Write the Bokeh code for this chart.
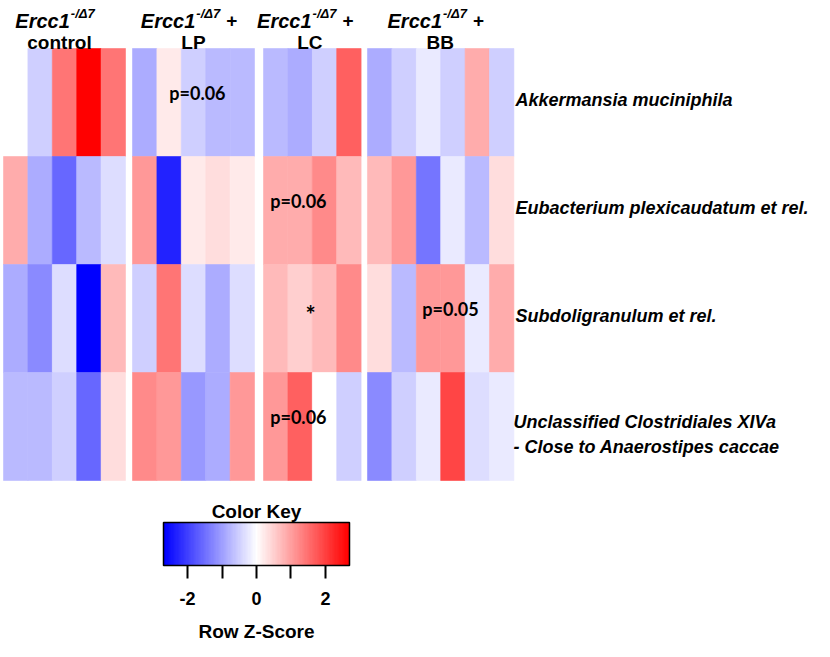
import numpy as np
from bokeh.plotting import figure
from bokeh.models import Range1d, LinearColorMapper, ColorBar, FixedTicker, ColumnDataSource
from bokeh.transform import transform
from bokeh.core.properties import value
from bokeh.embed import file_html
from bokeh.resources import INLINE

# ---------------- data ----------------
taxa = [
    "Akkermansia muciniphila",
    "Eubacterium plexicaudatum et rel.",
    "Subdoligranulum et rel.",
    "Unclassified Clostridiales XIVa\n- Close to Anaerostipes caccae",
]
groups = ["control", "LP", "LC", "BB"]
group_plus = [False, True, True, True]
genotype = "Ercc1"
genotype_sup = "-/\u03947"

# row z-scores per group (rows = taxa, columns = animals)
z_control = [
    [0.00, -0.54, 1.44, 2.70, 1.44],
    [0.90, -0.90, -1.62, -0.72, -0.36],
    [-0.90, -1.26, -0.36, -2.70, 0.72],
    [-0.72, -0.72, -0.54, -1.62, 0.36],
]
z_LP = [
    [-0.90, 0.18, -0.54, -0.72, -0.72],
    [1.08, -2.34, 0.18, 0.36, 0.18],
    [-0.54, 1.44, -0.36, -0.90, -0.36],
    [1.26, 1.08, -1.08, -0.90, 1.08],
]
z_LC = [
    [-0.72, -0.90, -0.54, 1.62],
    [0.90, 0.90, 1.26, 0.72],
    [0.72, 0.54, 0.72, 1.26],
    [1.08, 1.62, 0.00, -0.54],
]
z_BB = [
    [-0.90, -0.54, -0.18, -0.54, 0.90, -0.54],
    [0.72, 1.08, -1.44, -0.18, -0.72, 0.36],
    [0.36, -0.72, 1.08, 1.08, -0.18, 0.90],
    [-1.26, -0.54, -0.18, 1.98, -0.36, -0.18],
]

ann_group = ["LP", "LC", "LC", "BB", "LC"]
ann_row = [0, 1, 2, 2, 3]
ann_col = [2.66, 1.43, 1.93, 3.40, 1.43]
ann_text = ["p=0.06", "p=0.06", "*", "p=0.05", "p=0.06"]

key_title = "Color Key"
key_axis = "Row Z-Score"
key_ticks = [-2, -1, 0, 1, 2]
key_labels = {-2: "-2", -1: "", 0: "0", 1: "", 2: "2"}
z_low, z_high = -2.7, 2.7

# ---------------- layout ----------------
W, H = 814, 641
LEFT, COLW, ROWH, TOP = 3.0, 24.4, 108.0, 48.0
gaps = [0.287, 0.369, 0.262]


def xd(px):
    return (px - LEFT) / COLW


def yd(px):
    return (px - TOP) / ROWH


blocks = [z_control, z_LP, z_LC, z_BB]
offsets = []
o = 0.0
for i, b in enumerate(blocks):
    offsets.append(o)
    o += len(b[0]) + (gaps[i] if i < len(gaps) else 0.0)
heat_right = offsets[-1] + len(blocks[-1][0])

xs, ys, zs = [], [], []
for off, b in zip(offsets, blocks):
    for r, row in enumerate(b):
        for c, v in enumerate(row):
            xs.append(off + c + 0.5)
            ys.append(r + 0.5)
            zs.append(v)
src = ColumnDataSource(dict(x=xs, y=ys, z=zs))

# blue-white-red palette
n_half = 37
pal = []
for i in range(n_half):
    v = int(round(255 * i / n_half))
    pal.append("#%02x%02x%02x" % (v, v, 255))
pal.append("#ffffff")
for i in range(1, n_half + 1):
    v = int(round(255 * (1 - i / n_half)))
    pal.append("#%02x%02x%02x" % (255, v, v))
mapper = LinearColorMapper(palette=pal, low=z_low, high=z_high)

p = figure(width=W, height=H, x_range=Range1d(xd(0), xd(W)),
           y_range=Range1d(yd(H), yd(0)),
           output_backend="svg", toolbar_location=None, min_border=0,
           x_axis_location=None, y_axis_location=None)
p.grid.visible = False
p.outline_line_color = None
p.background_fill_color = "white"

p.rect(x="x", y="y", width=1, height=1, source=src,
       fill_color=transform("z", mapper), line_color=transform("z", mapper),
       line_width=0.6)

# ---------------- headers ----------------
FONT = value("Liberation Sans")
hdr_nudge_px = [-5.0, 0.0, -2.5, -0.5]
w_ercc, w_sup, w_gap, w_plus = 45.6, 24.0, 6.0, 11.0
e_x, s_x, pl_x, g_x = [], [], [], []
for gi, g in enumerate(groups):
    cx_px = LEFT + (offsets[gi] + len(blocks[gi][0]) / 2) * COLW + hdr_nudge_px[gi]
    total = w_ercc + 1 + w_sup + ((w_gap + w_plus) if group_plus[gi] else 0)
    start = cx_px - total / 2
    e_x.append(xd(start + w_ercc))
    s_x.append(xd(start + w_ercc + 1))
    if group_plus[gi]:
        pl_x.append(xd(start + w_ercc + 1 + w_sup + w_gap))
    g_x.append(xd(cx_px))

p.text(x=e_x, y=[yd(20)] * 4, text=[genotype] * 4, text_font=FONT,
       text_font_style="bold italic", text_font_size="20px",
       text_align="right", text_baseline="alphabetic", text_color="black")
p.text(x=s_x, y=[yd(13)] * 4, text=[genotype_sup] * 4, text_font=FONT,
       text_font_style="bold italic", text_font_size="13px",
       text_align="left", text_baseline="alphabetic", text_color="black")
p.text(x=pl_x, y=[yd(20)] * len(pl_x), text=["+"] * len(pl_x), text_font=FONT,
       text_font_style="bold", text_font_size="19px",
       text_align="left", text_baseline="alphabetic", text_color="black")
p.text(x=g_x, y=[yd(42)] * 4, text=groups, text_font=FONT,
       text_font_style="bold", text_font_size="19px",
       text_align="center", text_baseline="alphabetic", text_color="black")

# ---------------- row labels ----------------
lab_x, lab_y, lab_t = [], [], []
for r, t in enumerate(taxa):
    lines = t.split("\n")
    if len(lines) == 1:
        lab_x.append(xd(515))
        lab_y.append(r + 0.5 - 3 / ROWH)
        lab_t.append(t)
    else:
        for li, ln in enumerate(lines):
            lab_x.append(xd(513))
            lab_y.append(r + 0.5 + (-5 + 25 * li) / ROWH)
            lab_t.append(ln)
p.text(x=lab_x, y=lab_y, text=lab_t, text_font=FONT,
       text_font_style="bold italic", text_font_size="18px",
       text_align="left", text_baseline="middle", text_color="black")

# ---------------- annotations ----------------
ax = [offsets[groups.index(g)] + c for g, c in zip(ann_group, ann_col)]
ay = [r + 0.5 - (4 if t == "*" else 10) / ROWH for r, t in zip(ann_row, ann_text)]
asz = ["24px" if t == "*" else "18px" for t in ann_text]
p.text(x=ax, y=ay, text=ann_text, text_font=value("Lato"),
       text_font_style="bold", text_font_size=asz,
       text_align="center", text_baseline="middle", text_color="black")

# ---------------- color key ----------------
KEY_L, KEY_W, KEY_H = 163, 186, 43
cb = ColorBar(color_mapper=mapper, orientation="horizontal",
              width=KEY_W, height=KEY_H, location=(KEY_L, 34), padding=0,
              ticker=FixedTicker(ticks=key_ticks),
              major_label_overrides=key_labels,
              major_tick_in=0, major_tick_out=13,
              major_tick_line_color="black", major_tick_line_width=2,
              minor_tick_line_color=None,
              bar_line_color="black", bar_line_width=1.5,
              label_standoff=13,
              major_label_text_font="Liberation Sans",
              major_label_text_font_size="18px",
              major_label_text_font_style="bold",
              major_label_text_color="black",
              background_fill_alpha=0, border_line_color=None)
p.add_layout(cb)

key_cx = xd(KEY_L + KEY_W / 2)
p.text(x=[key_cx], y=[yd(511)], text=[key_title], text_font=FONT,
       text_font_style="bold", text_font_size="19px",
       text_align="center", text_baseline="middle", text_color="black")
p.text(x=[key_cx], y=[yd(631)], text=[key_axis], text_font=FONT,
       text_font_style="bold", text_font_size="19px",
       text_align="center", text_baseline="middle", text_color="black")

open("out.html", "w").write(file_html(p, INLINE))
